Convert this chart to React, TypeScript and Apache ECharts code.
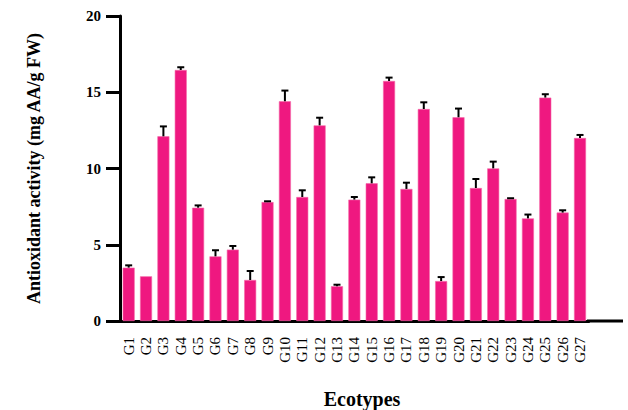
import React, { useEffect, useRef } from "react";
import * as echarts from "echarts";

// Ecotype labels along the x axis
const ecotypes = [
  "G1", "G2", "G3", "G4", "G5", "G6", "G7", "G8", "G9", "G10",
  "G11", "G12", "G13", "G14", "G15", "G16", "G17", "G18", "G19", "G20",
  "G21", "G22", "G23", "G24", "G25", "G26", "G27",
];

// Mean antioxidant activity (mg AA/g FW)
const activity = [
  3.5, 2.93, 12.11, 16.46, 7.43, 4.24, 4.68, 2.69, 7.8, 14.41,
  8.13, 12.83, 2.28, 7.96, 9.03, 15.74, 8.66, 13.9, 2.62, 13.36,
  8.72, 10.01, 8.0, 6.73, 14.65, 7.11, 12.0,
];

// Standard error (upper whisker only)
const errors = [
  0.15, 0.0, 0.65, 0.18, 0.15, 0.4, 0.24, 0.59, 0.05, 0.7,
  0.44, 0.5, 0.1, 0.17, 0.39, 0.22, 0.41, 0.44, 0.26, 0.57,
  0.59, 0.44, 0.05, 0.25, 0.22, 0.15, 0.2,
];

const yTicks = [0, 5, 10, 15, 20];

const FONT = '"Liberation Serif", "Times New Roman", serif';
const PINK = "#EF1880";

export default function App() {
  const ref = useRef<HTMLDivElement>(null);

  useEffect(() => {
    if (!ref.current) return;
    const chart = echarts.init(ref.current, null, { renderer: "svg" });

    const errData = activity.map((v, i) => [i, v, v + errors[i]]);

    chart.setOption({
      animation: false,
      backgroundColor: "#ffffff",
      grid: { left: 120, top: 16, right: 39.3, bottom: 89, containLabel: false },
      xAxis: {
        type: "category",
        data: ecotypes,
        boundaryGap: true,
        axisLine: { lineStyle: { color: "#000", width: 3 } },
        axisTick: { alignWithLabel: true, length: 12, lineStyle: { color: "#000", width: 3 } },
        axisLabel: {
          rotate: 90,
          margin: 16,
          interval: 0,
          fontFamily: FONT,
          fontSize: 15,
          color: "#000",
        },
      },
      yAxis: {
        type: "value",
        min: yTicks[0],
        max: yTicks[yTicks.length - 1],
        interval: 5,
        name: "Antioxidant activity (mg AA/g FW)",
        nameLocation: "middle",
        nameGap: 77,
        nameTextStyle: { fontFamily: FONT, fontSize: 18, fontWeight: "bold", color: "#000" },
        axisLine: { show: true, lineStyle: { color: "#000", width: 3 } },
        axisTick: { show: true, length: 14, lineStyle: { color: "#000", width: 3 } },
        axisLabel: {
          margin: 19,
          fontFamily: FONT,
          fontSize: 15,
          fontWeight: "bold",
          color: "#000",
        },
        splitLine: { show: false },
      },
      graphic: [
        {
          // x-axis line continues past the last category
          type: "line",
          shape: { x1: 587, y1: 321, x2: 623, y2: 321 },
          style: { stroke: "#000", lineWidth: 3 },
          z: 10,
        },
        {
          // x-axis title
          type: "text",
          x: 362,
          y: 399,
          style: {
            text: "Ecotypes",
            align: "center",
            verticalAlign: "middle",
            font: `bold 20px ${FONT}`,
            fill: "#000",
          },
        },
      ],
      series: [
        {
          type: "bar",
          data: activity,
          barWidth: 12,
          itemStyle: { color: PINK, borderColor: "#F56AA8", borderWidth: 0.6 },
        },
        {
          type: "custom",
          data: errData,
          z: 5,
          renderItem: (params: any, api: any) => {
            const idx = api.value(0);
            const base = api.coord([idx, api.value(1)]);
            const top = api.coord([idx, api.value(2)]);
            if (base[1] - top[1] < 0.5) {
              return { type: "group", children: [] };
            }
            const half = 3.5;
            return {
              type: "group",
              children: [
                {
                  type: "line",
                  shape: { x1: base[0], y1: base[1], x2: top[0], y2: top[1] },
                  style: { stroke: "#000", lineWidth: 2 },
                },
                {
                  type: "line",
                  shape: { x1: top[0] - half, y1: top[1], x2: top[0] + half, y2: top[1] },
                  style: { stroke: "#000", lineWidth: 2 },
                },
              ],
            };
          },
        },
      ],
    });

    return () => chart.dispose();
  }, []);

  return (
    <div
      ref={ref}
      style={{ position: "absolute", left: 0, top: 0, width: 628, height: 410 }}
    />
  );
}
